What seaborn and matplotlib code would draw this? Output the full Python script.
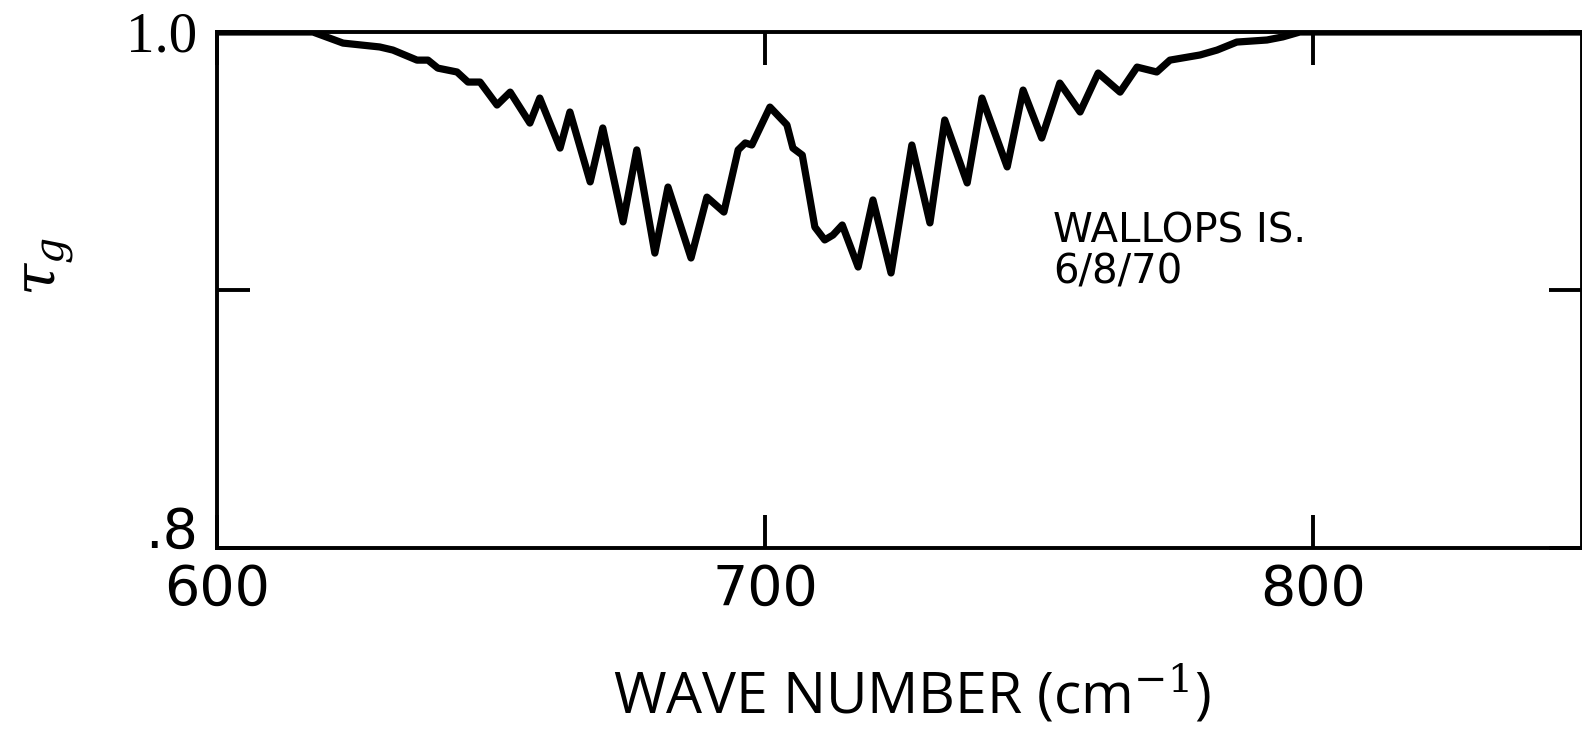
import matplotlib
matplotlib.use("Agg")
import matplotlib.pyplot as plt
import seaborn as sns
import pandas as pd

# Gas transmittance spectrum, Wallops Island sounding of 6/8/70
wavenumber = [600.0, 617.5, 623.0, 629.7, 632.1, 636.5, 638.5, 640.3, 643.8, 645.8,
              648.0, 651.1, 653.5, 657.1, 658.9, 662.6, 664.4, 668.1, 670.4, 674.1,
              676.6, 679.9, 682.3, 686.5, 689.4, 692.5, 695.1, 696.4, 697.6, 700.9,
              704.0, 705.1, 706.8, 707.7, 709.1, 710.9, 712.4, 714.1, 717.0, 719.7,
              723.0, 726.8, 730.1, 732.8, 736.9, 739.6, 744.2, 747.1, 750.5, 753.8,
              757.5, 760.8, 764.8, 767.9, 771.5, 773.9, 779.4, 782.5, 786.1, 791.6,
              794.5, 797.6, 849.0]
tau_g = [1.000, 1.000, 0.9957, 0.9942, 0.9930, 0.9891, 0.9891, 0.9860, 0.9845, 0.9806,
         0.9806, 0.9717, 0.9767, 0.9647, 0.9744, 0.9550, 0.9690, 0.9419, 0.9628, 0.9264,
         0.9543, 0.9143, 0.9399, 0.9124, 0.9360, 0.9302, 0.9543, 0.9570, 0.9562, 0.9709,
         0.9640, 0.9550, 0.9523, 0.9415, 0.9244, 0.9194, 0.9213, 0.9252, 0.9089, 0.9349,
         0.9066, 0.9562, 0.9260, 0.9659, 0.9415, 0.9744, 0.9477, 0.9775, 0.9589, 0.9802,
         0.9690, 0.9841, 0.9767, 0.9864, 0.9845, 0.9891, 0.9911, 0.9930, 0.9961, 0.9969,
         0.9981, 1.000, 1.000]

x_ticks = [600, 700, 800]
x_tick_labels = ["600", "700", "800"]
y_ticks = [0.8, 0.9, 1.0]
y_tick_labels = [".8", "", "1.0"]

x_label = r"WAVE NUMBER (cm$^{-1}$)"
y_label = r"$\tau_g$"
site_label = "WALLOPS IS."
date_label = "6/8/70"

sns.set_style("ticks")
plt.rcParams["font.family"] = ["DejaVu Sans"]
plt.rcParams["mathtext.fontset"] = "dejavuserif"
plt.rcParams["text.color"] = "black"
plt.rcParams["axes.labelcolor"] = "black"
plt.rcParams["xtick.color"] = "black"
plt.rcParams["ytick.color"] = "black"

fig = plt.figure(figsize=(15.82, 7.35), dpi=100)
ax = fig.add_axes([217 / 1582, 1 - 548 / 735, 1364.5 / 1582, 516 / 735])

df = pd.DataFrame({"wavenumber": wavenumber, "tau_g": tau_g})
sns.lineplot(data=df, x="wavenumber", y="tau_g", ax=ax, color="black",
             linewidth=5.2, estimator=None, sort=False,
             solid_joinstyle="round", solid_capstyle="round")

ax.set_xlim(600, 849)
ax.set_ylim(0.8, 1.0)

ax.set_xticks(x_ticks)
ax.set_xticklabels(x_tick_labels)
ax.set_yticks(y_ticks)
ax.set_yticklabels(y_tick_labels)

ax.tick_params(axis="both", direction="in", length=24, width=2.8,
               top=True, right=True, labelsize=40, color="black",
               labelcolor="black")
ax.tick_params(axis="x", pad=11)
ax.tick_params(axis="y", pad=14)
for lab in ax.get_yticklabels():
    if lab.get_text() == "1.0":
        lab.set_fontfamily("Liberation Serif")
        lab.set_fontsize(41)
    elif lab.get_text() == ".8":
        lab.set_verticalalignment("baseline")

for side in ["left", "right", "top", "bottom"]:
    ax.spines[side].set_linewidth(2.8)
    ax.spines[side].set_color("black")

ax.set_xlabel(x_label, fontsize=41, color="black", family=["Open Sans", "DejaVu Sans"])
ax.xaxis.set_label_coords(0.509, -0.225)
ax.set_ylabel(y_label, fontsize=42, rotation=90, color="black")
ax.yaxis.label.set_verticalalignment("center")
ax.yaxis.label.set_horizontalalignment("center")
ax.yaxis.set_label_coords(-0.124, 0.545)

ax.text(752.6, 0.9186, site_label, fontsize=29, va="baseline", ha="left", color="black")
ax.text(752.6, 0.9027, date_label, fontsize=29, va="baseline", ha="left", color="black")

fig.savefig("out.png", dpi=100, facecolor="white")
